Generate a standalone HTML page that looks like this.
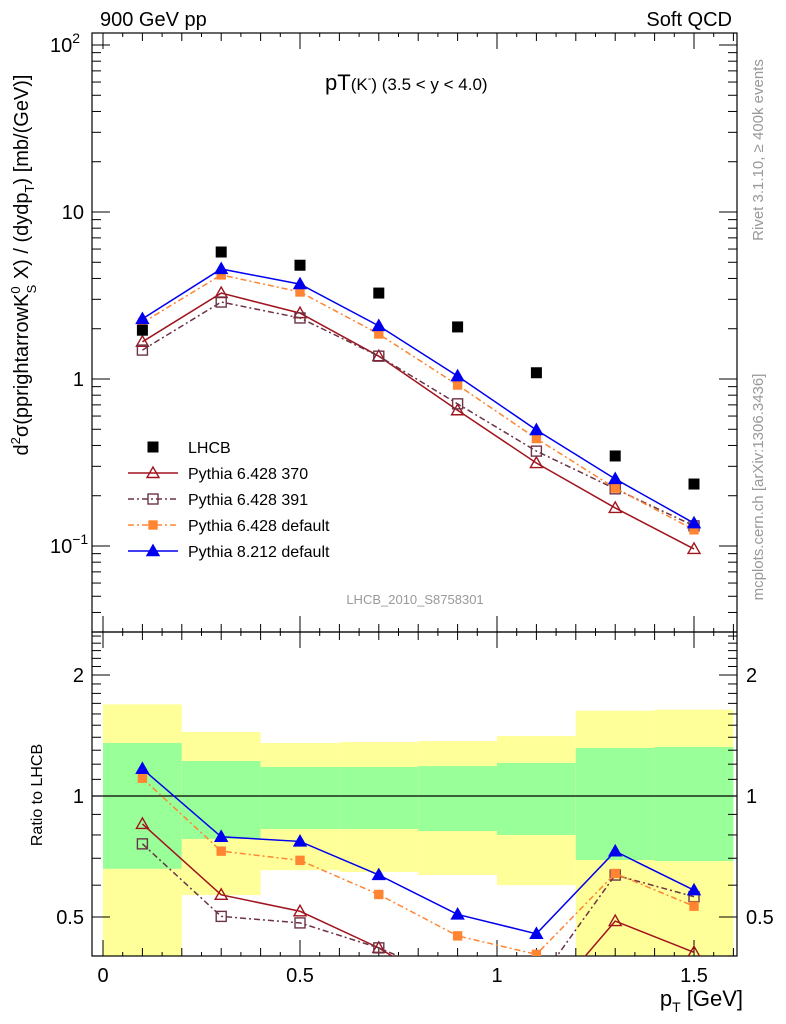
<!DOCTYPE html>
<html><head><meta charset="utf-8"><style>
html,body{margin:0;padding:0;background:#fff;}
svg{display:block;font-family:"Liberation Sans",sans-serif;}
</style></head><body>
<svg id="chart" width="786" height="1024" viewBox="0 0 786 1024">
<g id="bands"></g>
<g id="grid"></g>
<g id="series"></g>
<text x="100" y="26" font-size="20">900 GeV pp</text>
<text x="732" y="26" font-size="20" text-anchor="end">Soft QCD</text>
<text x="325" y="90" font-size="22">pT<tspan font-size="17">(K</tspan><tspan font-size="11" dy="-8">-</tspan><tspan font-size="17" dy="8">) (3.5 &lt; y &lt; 4.0)</tspan></text>
<text x="415" y="604" font-size="13" fill="#999" text-anchor="middle">LHCB_2010_S8758301</text>
<text transform="translate(763,150) rotate(-90)" font-size="15" fill="#999" text-anchor="middle">Rivet 3.1.10, ≥ 400k events</text>
<text transform="translate(763,487) rotate(-90)" font-size="15" fill="#999" text-anchor="middle">mcplots.cern.ch [arXiv:1306.3436]</text>
<text transform="translate(28,265) rotate(-90)" font-size="20" text-anchor="middle">d<tspan font-size="13" dy="-8">2</tspan><tspan dy="8">σ(pprightarrowK</tspan><tspan font-size="13" dy="-8">0</tspan><tspan font-size="13" dy="16" dx="-7">S</tspan><tspan dy="-8"> X) / (dydp</tspan><tspan font-size="13" dy="6">T</tspan><tspan dy="-6">) [mb/(GeV)]</tspan></text>
<text transform="translate(42,795) rotate(-90)" font-size="16" text-anchor="middle">Ratio to LHCB</text>
<text x="743" y="1006" font-size="22" text-anchor="end">p<tspan font-size="14" dy="6">T</tspan><tspan dy="-6"> [GeV]</tspan></text>
<g id="legend"></g>
</svg>
<script>
const xCenters=[0.1,0.3,0.5,0.7,0.9,1.1,1.3,1.5];
const binEdges=[0,0.2,0.4,0.6,0.8,1.0,1.2,1.4,1.6];
const lhcb=[1.96,5.76,4.8,3.27,2.05,1.09,0.346,0.235];
const py370=[1.67,3.27,2.48,1.37,0.65,0.314,0.169,0.096];
const py391=[1.49,2.89,2.32,1.37,0.71,0.37,0.22,0.132];
const py6def=[2.17,4.2,3.32,1.86,0.92,0.44,0.222,0.125];
const py8def=[2.29,4.56,3.7,2.08,1.04,0.495,0.252,0.137];
const totHi=[1.69,1.443,1.355,1.362,1.37,1.41,1.63,1.64];
const totLo=[0.3,0.567,0.654,0.647,0.636,0.60,0.3,0.3];
const statHi=[1.355,1.222,1.181,1.181,1.187,1.208,1.317,1.324];
const statLo=[0.659,0.782,0.828,0.828,0.818,0.80,0.693,0.689];
const xTicks=[0,0.5,1,1.5];
const xTickLabels=["0","0.5","1","1.5"];
const ratioTicks=[0.5,1,2];
const ratioTickLabels=["0.5","1","2"];

const NS="http://www.w3.org/2000/svg";
const L=92,R=737,T=33,MB=632,RB=956;
const X=v=>103+(v)*394;
const Y=v=>379-Math.log10(v)*167;
const YR=v=>796-Math.log2(v)*121;
function mk(p,tag,at){const e=document.createElementNS(NS,tag);for(const k in at)e.setAttribute(k,at[k]);p.appendChild(e);return e;}
const clamp=(v,a,b)=>Math.max(a,Math.min(b,v));

const bands=document.getElementById('bands');
for(let i=0;i<xCenters.length;i++){
  const x0=X(binEdges[i]),x1=X(binEdges[i+1]);
  const yt=clamp(YR(totHi[i]),MB,RB),yb=clamp(YR(totLo[i]),MB,RB);
  const r=mk(bands,'rect',{x:x0,y:yt,width:x1-x0,height:yb-yt,fill:'#ffff99'});
  
  
  const st=YR(statHi[i]),sb=YR(statLo[i]);
  const g=mk(bands,'rect',{x:x0,y:st,width:x1-x0,height:sb-st,fill:'#99ff99'});
  
  
}

const grid=document.getElementById('grid');
const ax={stroke:'#000','stroke-width':1.2,fill:'none'};
const f1=mk(grid,'rect',Object.assign({x:L,y:T,width:R-L,height:MB-T},ax));

const f2=mk(grid,'rect',Object.assign({x:L,y:MB,width:R-L,height:RB-MB},ax));

const one=mk(grid,'line',{x1:L,x2:R,y1:YR(1),y2:YR(1),stroke:'#000','stroke-width':1.2});

function tick(x1,y1,x2,y2){mk(grid,'line',{x1,y1,x2,y2,stroke:'#000','stroke-width':1});}
for(let k=0;k<=16;k++){const v=k/10;const x=X(v);const len=(k%5==0)?16:8;
  [[T,1],[MB,-1],[MB,1],[RB,-1]].forEach(([y,d])=>tick(x,y,x,y+d*len));
  if(k<16){const xm=X(v+0.05);[[T,1],[MB,-1],[MB,1],[RB,-1]].forEach(([y,d])=>tick(xm,y,xm,y+d*4));}
}
xTicks.forEach((v,i)=>{const t=mk(grid,'text',{x:X(v),y:982,'font-size':20,'text-anchor':'middle'});t.textContent=xTickLabels[i];
  });
for(let d=-2;d<=2;d++){for(let m=1;m<=9;m++){const v=m*Math.pow(10,d);const y=Y(v);if(y<T||y>MB)continue;
  const len=m==1?18:9;tick(L,y,L+len,y);tick(R,y,R-len,y);}}
[[100,'10','2'],[10,'10',''],[1,'1',''],[0.1,'10','−1']].forEach(([v,b,e])=>{
  const t=mk(grid,'text',{x:e?50:84,y:Y(v)+7,'font-size':20,'text-anchor':e?'start':'end'});
  t.textContent=b;if(e){const s=mk(t,'tspan',{dy:-9,'font-size':14});s.textContent=e;}
  });
for(let k=4;k<=25;k++){const v=k/10;const y=YR(v);if(y<MB||y>RB)continue;const len=(k==5||k==10||k==20)?18:9;
  tick(L,y,L+len,y);tick(R,y,R-len,y);}
ratioTicks.forEach((v,i)=>{const y=YR(v)+7;
  const a=mk(grid,'text',{x:84,y,'font-size':20,'text-anchor':'end'});a.textContent=ratioTickLabels[i];
  
  const b=mk(grid,'text',{x:746,y,'font-size':20});b.textContent=ratioTickLabels[i];
  });

const series=document.getElementById('series');
const defs=[
 {name:'pythia-6428-370',data:py370,color:'#a0141e',dash:'',marker:'tri-open'},
 {name:'pythia-6428-391',data:py391,color:'#6b3446',dash:'6,3,2,3',marker:'sq-open'},
 {name:'pythia-6428-default',data:py6def,color:'#ff8533',dash:'6,3,2,3',marker:'sq'},
 {name:'pythia-8212-default',data:py8def,color:'#0000ee',dash:'',marker:'tri'}];
function marker(p,type,x,y,c){
  if(type=='tri'||type=='tri-open'){return mk(p,'polygon',{points:`${x},${y-6} ${x-6},${y+4.5} ${x+6},${y+4.5}`,fill:type=='tri'?c:'none',stroke:c,'stroke-width':1.4});}
  if(type=='sq'||type=='sq-open'){const s=type=='sq'?4:5;return mk(p,'rect',{x:x-s,y:y-s,width:2*s,height:2*s,fill:type=='sq'?c:'none',stroke:c,'stroke-width':1.4});}
  return mk(p,'rect',{x:x-5.5,y:y-5.5,width:11,height:11,fill:c});
}
const clipDefs=mk(document.getElementById('chart'),'defs',{});
const cp=mk(clipDefs,'clipPath',{id:'rclip'});mk(cp,'rect',{x:L,y:MB,width:R-L,height:RB-MB});
defs.forEach(s=>{
  const g=mk(series,'g',{});
  
  const pts=xCenters.map((x,i)=>X(x)+','+Y(s.data[i])).join(' ');
  mk(g,'polyline',{points:pts,fill:'none',stroke:s.color,'stroke-width':1.5,'stroke-dasharray':s.dash});
  xCenters.forEach((x,i)=>{const m=marker(g,s.marker,X(x),Y(s.data[i]),s.color);
    });
  const rg=mk(g,'g',{'clip-path':'url(#rclip)'});
  const rp=xCenters.map((x,i)=>X(x)+','+YR(s.data[i]/lhcb[i])).join(' ');
  mk(rg,'polyline',{points:rp,fill:'none',stroke:s.color,'stroke-width':1.5,'stroke-dasharray':s.dash});
  xCenters.forEach((x,i)=>{const m=marker(rg,s.marker,X(x),YR(s.data[i]/lhcb[i]),s.color);
    });
});
const dg=mk(series,'g',{});

xCenters.forEach((x,i)=>{const m=mk(dg,'rect',{x:X(x)-5.5,y:Y(lhcb[i])-5.5,width:11,height:11,fill:'#000'});
  });

const lg=document.getElementById('legend');
const items=[['LHCB','#000','','data'],['Pythia 6.428 370',defs[0].color,'',defs[0].marker],['Pythia 6.428 391',defs[1].color,defs[1].dash,defs[1].marker],
 ['Pythia 6.428 default',defs[2].color,defs[2].dash,defs[2].marker],['Pythia 8.212 default',defs[3].color,'',defs[3].marker]];
items.forEach((it,i)=>{const y=447+i*26;const g=mk(lg,'g',{});
  
  if(it[3]!='data')mk(g,'line',{x1:128,x2:178,y1:y,y2:y,stroke:it[1],'stroke-width':1.5,'stroke-dasharray':it[2]});
  marker(g,it[3],153,y,it[1]);
  const t=mk(g,'text',{x:188,y:y+6,'font-size':16});t.textContent=it[0];});
</script>
</body></html>
